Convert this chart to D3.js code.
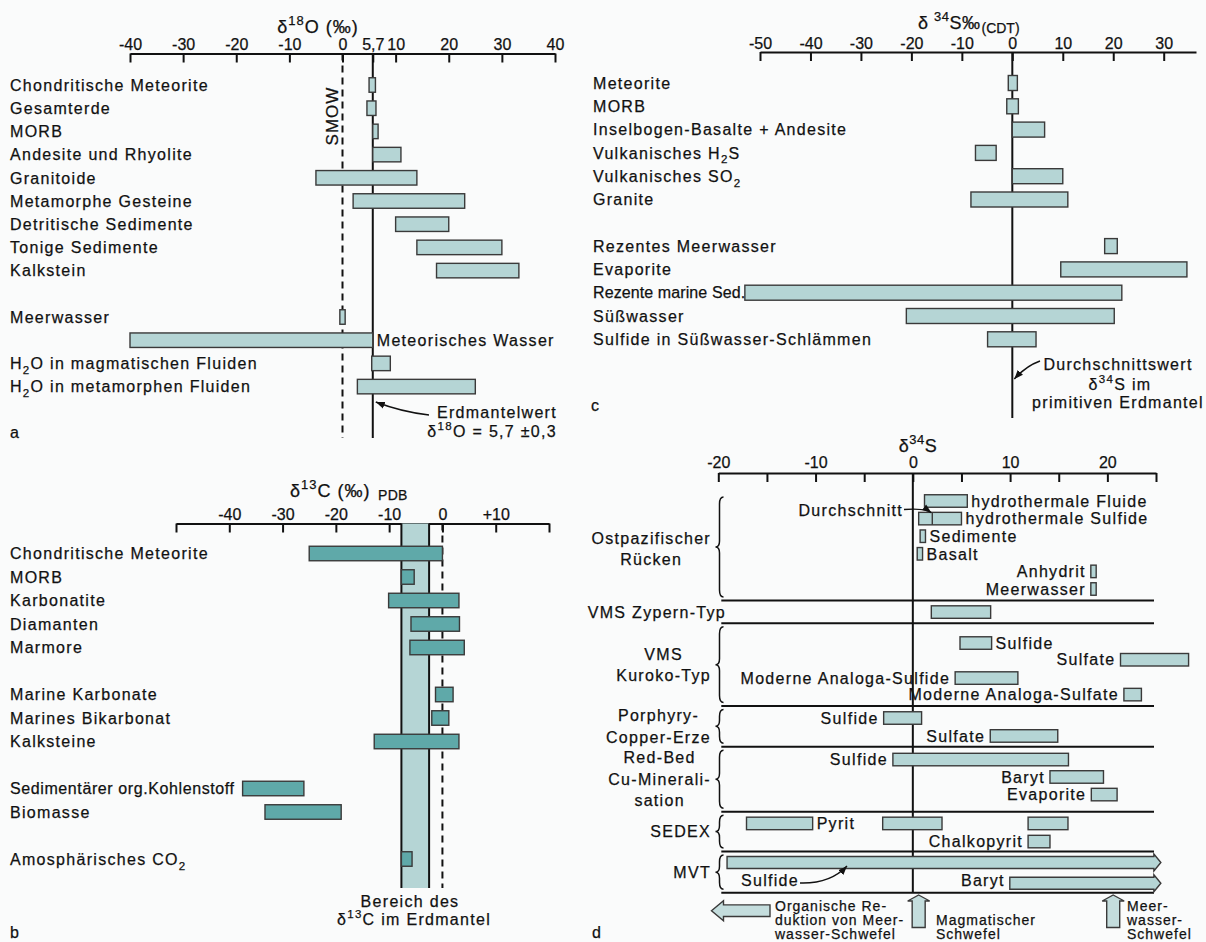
<!DOCTYPE html>
<html>
<head>
<meta charset="utf-8">
<script src="https://d3js.org/d3.v7.min.js"></script>
<style>
  body, html { margin: 0; padding: 0; overflow: hidden; background: #fafbfb; }
  svg text { font-family: "Liberation Sans", Arial, Helvetica, sans-serif; fill: #111; stroke: #111; stroke-width: 0.25; }
</style>
</head>
<body>
<script>
// ---- panel a: delta 18O ----
const aLabels = ["Chondritische Meteorite", "Gesamterde", "MORB", "Andesite und Rhyolite", "Granitoide",
  "Metamorphe Gesteine", "Detritische Sedimente", "Tonige Sedimente", "Kalkstein", "Meerwasser",
  "Meteorisches Wasser", "H_{2}O in magmatischen Fluiden", "H_{2}O in metamorphen Fluiden"];
const aRow = [0, 1, 2, 3, 4, 5, 6, 7, 8, 10, 11, 12, 13];
const aMin = [5.0, 4.6, 5.7, 5.7, -5, 2, 10, 14, 17.7, -0.5, -40, 5.5, 2.8];
const aMax = [6.2, 6.3, 6.7, 11, 14, 23, 20, 30, 33.2, 0.5, 5.7, 9, 25];
const aTicks = [-40, -30, -20, -10, 0, 5.7, 10, 20, 30, 40];
const aMantle = 5.7;

// ---- panel b: delta 13C ----
const bLabels = ["Chondritische Meteorite", "MORB", "Karbonatite", "Diamanten", "Marmore", "Marine Karbonate",
  "Marines Bikarbonat", "Kalksteine", "Sedimentärer org.Kohlenstoff", "Biomasse", "Amosphärisches CO_{2}"];
const bRow = [0, 1, 2, 3, 4, 6, 7, 8, 10, 11, 13];
const bMin = [-25, -7.7, -10.1, -5.9, -6.1, -1.3, -2, -12.8, -37.5, -33.3, -7.7];
const bMax = [0, -5.3, 3.1, 3.2, 4.1, 2, 1.2, 3.1, -26, -19, -5.7];
const bMantle = [-7.7, -2.5];
const bTicks = [-50, -40, -30, -20, -10, 0, 10, 20];

// ---- panel c: delta 34S ----
const cLabels = ["Meteorite", "MORB", "Inselbogen-Basalte + Andesite", "Vulkanisches H_{2}S", "Vulkanisches SO_{2}",
  "Granite", "Rezentes Meerwasser", "Evaporite", "Rezente marine Sed.", "Süßwasser", "Sulfide in Süßwasser-Schlämmen"];
const cRow = [0, 1, 2, 3, 4, 5, 7, 8, 9, 10, 11];
const cMin = [-0.8, -1.1, 0, -7.3, 0, -8.2, 18.3, 9.6, -53, -21, -4.9];
const cMax = [1.0, 1.2, 6.4, -3.2, 10, 11, 20.8, 34.6, 21.7, 20.2, 4.7];
const cTicks = [-50, -40, -30, -20, -10, 0, 10, 20, 30];

// ---- panel d: delta 34S ore deposits ----
const dNames = ["hydrothermale Fluide", "hydrothermale Sulfide", "Sedimente", "Basalt", "Anhydrit", "Meerwasser", "",
  "Sulfide", "Sulfate", "Moderne Analoga-Sulfide", "Moderne Analoga-Sulfate", "Sulfide", "Sulfate",
  "Sulfide", "Baryt", "Evaporite", "Pyrit", "", "", "Chalkopyrit"];
const dSide = ["r", "r", "r", "r", "l", "l", "", "r", "l", "l", "l", "l", "l", "l", "l", "l", "r", "", "", "l"];
const dRow = [0, 1, 2, 3, 4, 5, 6.31, 8.07, 9.02, 10.06, 11.0, 12.33, 13.35, 14.69, 15.68, 16.68, 18.32, 18.32, 18.32, 19.35];
const dMin = [1.2, 0.6, 0.75, 0.45, 18.3, 18.3, 1.9, 4.85, 21.35, 4.35, 21.7, -3.0, 7.96, -2.05, 14.1, 18.35, -17.1, -3.1, 11.85, 11.85];
const dMax = [5.6, 5.0, 1.3, 1.0, 18.85, 18.85, 8.0, 8.1, 28.35, 10.8, 23.5, 0.9, 14.9, 16.0, 19.6, 21.0, -10.3, 3.0, 15.95, 14.1];
const dMean = 2.0;
const mvtNames = ["Sulfide", "Baryt"];
const mvtRow = [20.54, 21.72];
const mvtMin = [-19.1, 9.97];
const mvtMax = [25.5, 25.5];
const dSeparators = [5.66, 6.95, 11.65, 13.96, 17.65, 19.92, 22.26];
const dGroups = [["Ostpazifischer", "Rücken"], ["VMS Zypern-Typ"], ["VMS", "Kuroko-Typ"], ["Porphyry-", "Copper-Erze"],
  ["Red-Bed", "Cu-Minerali-", "sation"], ["SEDEX"], ["MVT"]];
const dBrace = [true, false, true, true, true, true, true];
const dTicks = d3.range(-20, 26, 5);

const LIGHT = "#b5d5d5", DARK = "#5fa9a9", EDGE = "#3a3a3a", INK = "#111";

const svg = d3.select("body").append("svg")
  .attr("width", 1206).attr("height", 942).attr("viewBox", [0, 0, 1206, 942]);
svg.append("rect").attr("width", 1206).attr("height", 942).attr("fill", "#fafbfb");

svg.append("defs").append("marker")
  .attr("id", "arr").attr("markerUnits", "userSpaceOnUse")
  .attr("markerWidth", 10).attr("markerHeight", 8).attr("refX", 9).attr("refY", 4)
  .attr("orient", "auto")
  .append("path").attr("d", "M0,0.5 L9,4 L0,7.5 Z").attr("fill", INK);

// text with ^{sup} and _{sub}
function rich(t, str, size) {
  const parts = str.split(/([_^]\{[^}]*\})/).filter(s => s !== "");
  let cur = 0;
  parts.forEach(p => {
    const m = p.match(/^([_^])\{(.*)\}$/);
    if (m) {
      const target = m[1] === "_" ? 0.3 * size : -0.42 * size;
      t.append("tspan").attr("dy", target - cur).attr("font-size", size * 0.72).text(m[2]);
      cur = target;
    } else {
      t.append("tspan").attr("dy", -cur).text(p);
      cur = 0;
    }
  });
}

function label(g, x, y, str, opt = {}) {
  const size = opt.size || 16;
  const t = g.append("text").attr("x", x).attr("y", y)
    .attr("font-size", size)
    .attr("letter-spacing", opt.ls !== undefined ? opt.ls : 1.3)
    .attr("text-anchor", opt.anchor || "start");
  rich(t, str, size);
  return t;
}

function topAxis(g, scale, y, ticks, fmt, pad) {
  const ax = d3.axisTop(scale).tickValues(ticks).tickFormat(fmt)
    .tickSizeInner(-9).tickSizeOuter(0).tickPadding(pad);
  const a = g.append("g").attr("transform", `translate(0,${y})`).call(ax);
  a.select(".domain").attr("stroke", INK).attr("stroke-width", 2);
  a.selectAll(".tick line").attr("stroke", INK).attr("stroke-width", 2);
  a.selectAll(".tick text").attr("font-size", 16).attr("fill", INK);
  return a;
}

function bars(g, x, y, lo, hi, rows, h, fill) {
  g.selectAll(null).data(lo).join("rect")
    .attr("x", (d, i) => x(d))
    .attr("y", (d, i) => y(rows[i]) - h / 2)
    .attr("width", (d, i) => x(hi[i]) - x(d))
    .attr("height", h)
    .attr("fill", fill).attr("stroke", EDGE).attr("stroke-width", 1.4);
}

// ================= panel a =================
const gA = svg.append("g");
const xA = d3.scaleLinear([-40, 40], [130, 555]);
const yA = d3.scaleLinear([0, 1], [85, 108.2]);
topAxis(gA, xA, 53.5, aTicks, d => d === 5.7 ? "5,7" : String(d), 4);
label(gA, 318, 32.5, "δ^{18}O (‰)", { size: 18, ls: 1, anchor: "middle" });
gA.append("line").attr("x1", xA(aMantle)).attr("x2", xA(aMantle)).attr("y1", 53.5).attr("y2", 438)
  .attr("stroke", INK).attr("stroke-width", 2);
gA.append("line").attr("x1", xA(0)).attr("x2", xA(0)).attr("y1", 53.5).attr("y2", 438)
  .attr("stroke", INK).attr("stroke-width", 2).attr("stroke-dasharray", "7,5");
bars(gA, xA, yA, aMin, aMax, aRow, 14.5, LIGHT);
aLabels.forEach((s, i) => {
  if (s === "Meteorisches Wasser") label(gA, xA(aMax[i]) + 4, yA(aRow[i]) + 5.7, s);
  else label(gA, 10, yA(aRow[i]) + 5.7, s);
});
label(gA, 0, 0, "SMOW", { size: 17, ls: 1, anchor: "middle" })
  .attr("transform", `translate(${xA(0) - 5},116) rotate(-90)`);
gA.append("path").attr("d", `M429,415 Q402,412 ${xA(aMantle) + 3},402`)
  .attr("fill", "none").attr("stroke", INK).attr("stroke-width", 1.5).attr("marker-end", "url(#arr)");
label(gA, 557, 418, "Erdmantelwert", { anchor: "end" });
label(gA, 557, 437, "δ^{18}O = 5,7 ±0,3", { anchor: "end" });
label(gA, 10, 438, "a", { ls: 0 });

// ================= panel b =================
const gB = svg.append("g");
const xB = d3.scaleLinear([-50, 20], [176, 549]);
const yB = d3.scaleLinear([0, 1], [553.5, 577]);
topAxis(gB, xB, 523.5, bTicks, d => (d === -50 || d === 20) ? "" : d > 0 ? "+" + d : String(d), 4);
label(gB, 290, 496.5, "δ^{13}C (‰)", { size: 18, ls: 1 });
label(gB, 378, 500, "PDB", { size: 14, ls: 0.3 });
gB.append("rect").attr("x", xB(bMantle[0])).attr("y", 523.5)
  .attr("width", xB(bMantle[1]) - xB(bMantle[0])).attr("height", 888 - 523.5).attr("fill", LIGHT);
bMantle.forEach(v => gB.append("line").attr("x1", xB(v)).attr("x2", xB(v)).attr("y1", 523.5).attr("y2", 888)
  .attr("stroke", INK).attr("stroke-width", 2));
gB.append("line").attr("x1", xB(0)).attr("x2", xB(0)).attr("y1", 523.5).attr("y2", 888)
  .attr("stroke", INK).attr("stroke-width", 2).attr("stroke-dasharray", "7,5");
bars(gB, xB, yB, bMin, bMax, bRow, 14.5, DARK);
bLabels.forEach((s, i) => label(gB, 10, yB(bRow[i]) + 5.7, s, { ls: s.startsWith("Sediment") ? 0.6 : 1.3 }));
label(gB, 410, 907, "Bereich des", { anchor: "middle" });
label(gB, 414, 925, "δ^{13}C im Erdmantel", { anchor: "middle" });
label(gB, 10, 938, "b", { ls: 0 });

// ================= panel c =================
const gC = svg.append("g");
const xC = d3.scaleLinear([-50, 36.4], [760, 1196]);
const yC = d3.scaleLinear([0, 1], [83, 106.3]);
topAxis(gC, xC, 52, cTicks, d => String(d), 3);
const cTitle = label(gC, 918, 28.5, "δ ^{34}S‰", { size: 18, ls: 0.5 });
label(gC, 918 + cTitle.node().getComputedTextLength() + 1, 33, "(CDT)", { size: 14, ls: 0 });
gC.append("line").attr("x1", xC(0)).attr("x2", xC(0)).attr("y1", 52).attr("y2", 418)
  .attr("stroke", INK).attr("stroke-width", 2);
bars(gC, xC, yC, cMin, cMax, cRow, 15, LIGHT);
cLabels.forEach((s, i) => label(gC, 593, yC(cRow[i]) + 5.7, s, { ls: s.startsWith("Rezente marine") ? 0.1 : 1.3 }));
gC.append("path").attr("d", `M1040,361 Q1026,366 ${xC(0) + 2},379`)
  .attr("fill", "none").attr("stroke", INK).attr("stroke-width", 1.5).attr("marker-end", "url(#arr)");
label(gC, 1118, 370, "Durchschnittswert", { anchor: "middle" });
label(gC, 1120, 390, "δ^{34}S im", { anchor: "middle" });
label(gC, 1118, 408, "primitiven Erdmantel", { anchor: "middle" });
label(gC, 591, 411, "c", { ls: 0 });

// ================= panel d =================
const gD = svg.append("g");
const xD = d3.scaleLinear([-20, 25], [718.3, 1156]);
const yD = d3.scaleLinear([0, 1], [501, 518.6]);
topAxis(gD, xD, 473, dTicks, d => d % 10 === 0 ? String(d) : "", 5);
label(gD, 918, 451.5, "δ^{34}S", { size: 18, ls: 0.5, anchor: "middle" });
const sepX0 = xD.range()[0] + 3, sepX1 = xD.range()[1] - 2;
gD.selectAll(null).data(dSeparators).join("line")
  .attr("x1", sepX0).attr("x2", sepX1).attr("y1", d => yD(d)).attr("y2", d => yD(d))
  .attr("stroke", INK).attr("stroke-width", 2);
gD.append("line").attr("x1", xD(0)).attr("x2", xD(0)).attr("y1", 473).attr("y2", yD(dSeparators[6]))
  .attr("stroke", INK).attr("stroke-width", 2);
bars(gD, xD, yD, dMin, dMax, dRow, 12.5, LIGHT);
gD.append("line").attr("x1", xD(dMean)).attr("x2", xD(dMean))
  .attr("y1", yD(1) - 6.25).attr("y2", yD(1) + 6.25).attr("stroke", EDGE).attr("stroke-width", 1.4);
dNames.forEach((s, i) => {
  if (!s) return;
  if (dSide[i] === "r") label(gD, xD(dMax[i]) + 4, yD(dRow[i]) + 5.7, s);
  else label(gD, xD(dMin[i]) - 5, yD(dRow[i]) + 5.7, s, { anchor: "end" });
});
label(gD, 903, 515.5, "Durchschnitt", { anchor: "end" });
gD.append("path").attr("d", `M904,509.5 Q925,508 ${xD(dMean) - 1},${yD(1) - 6}`)
  .attr("fill", "none").attr("stroke", INK).attr("stroke-width", 1.4).attr("marker-end", "url(#arr)");

// MVT arrows
mvtNames.forEach((s, i) => {
  const x0 = xD(mvtMin[i]), tip = xD(mvtMax[i]), hx = tip - 7, c = yD(mvtRow[i]);
  gD.append("path")
    .attr("d", `M${x0},${c - 6} H${hx} V${c - 8.5} L${tip},${c} L${hx},${c + 8.5} V${c + 6} H${x0} Z`)
    .attr("fill", LIGHT).attr("stroke", EDGE).attr("stroke-width", 1.4);
});
label(gD, 741, 885.5, "Sulfide");
gD.append("path").attr("d", "M800,883 Q830,884 847,866")
  .attr("fill", "none").attr("stroke", INK).attr("stroke-width", 1.4).attr("marker-end", "url(#arr)");
label(gD, xD(mvtMin[1]) - 5, 885.5, "Baryt", { anchor: "end" });

// group labels and braces
dGroups.forEach((lines, gi) => {
  const top = gi === 0 ? -0.23 : dSeparators[gi - 1];
  const bot = dSeparators[gi];
  const yt = yD(top) + (gi === 0 ? 0 : 3.5), yb = yD(bot) - 3.5, mid = (yD(top) + yD(bot)) / 2;
  if (dBrace[gi]) {
    const x = 719.5, m = (yt + yb) / 2;
    gD.append("path")
      .attr("d", `M${x + 4},${yt} Q${x},${yt} ${x},${yt + 7} L${x},${m - 6} Q${x},${m} ${x - 4},${m} Q${x},${m} ${x},${m + 6} L${x},${yb - 7} Q${x},${yb} ${x + 4},${yb}`)
      .attr("fill", "none").attr("stroke", INK).attr("stroke-width", 1.5);
  }
  const right = dBrace[gi] ? 711 : 726;
  const texts = lines.map((s, k) => label(gD, 0, mid + 5.7 + (k - (lines.length - 1) / 2) * 21.5, s, { anchor: "middle" }));
  const maxW = d3.max(texts, t => t.node().getComputedTextLength());
  texts.forEach(t => t.attr("x", right - maxW / 2));
});

// bottom arrows
const arrowStyle = p => p.attr("fill", "#c4dddd").attr("stroke", EDGE).attr("stroke-width", 1.4);
const yTip = 895, yBot = 927.5;
{
  const tip = xD(-20.7), c = 910.7;
  arrowStyle(gD.append("path").attr("d",
    `M${tip},${c} L${tip + 12},${c - 10} V${c - 5.8} H770 V${c + 5.8} H${tip + 12} V${c + 10} Z`));
}
[0.6, 20.6].forEach(v => {
  const cx = xD(v);
  arrowStyle(gD.append("path").attr("d",
    `M${cx},${yTip} L${cx + 11},${yTip + 6} H${cx + 6.5} V${yBot} H${cx - 6.5} V${yTip + 6} H${cx - 11} Z`));
});
const bt = { size: 14, ls: 1 };
label(gD, 775, 910.5, "Organische Re-", bt);
label(gD, 775, 924.5, "duktion von Meer-", bt);
label(gD, 775, 938.5, "wasser-Schwefel", bt);
label(gD, 936, 924.5, "Magmatischer", bt);
label(gD, 936, 938.5, "Schwefel", bt);
label(gD, 1127, 910.5, "Meer-", bt);
label(gD, 1127, 924.5, "wasser-", bt);
label(gD, 1127, 938.5, "Schwefel", bt);
label(gD, 592, 938, "d", { ls: 0 });
</script>
</body>
</html>
